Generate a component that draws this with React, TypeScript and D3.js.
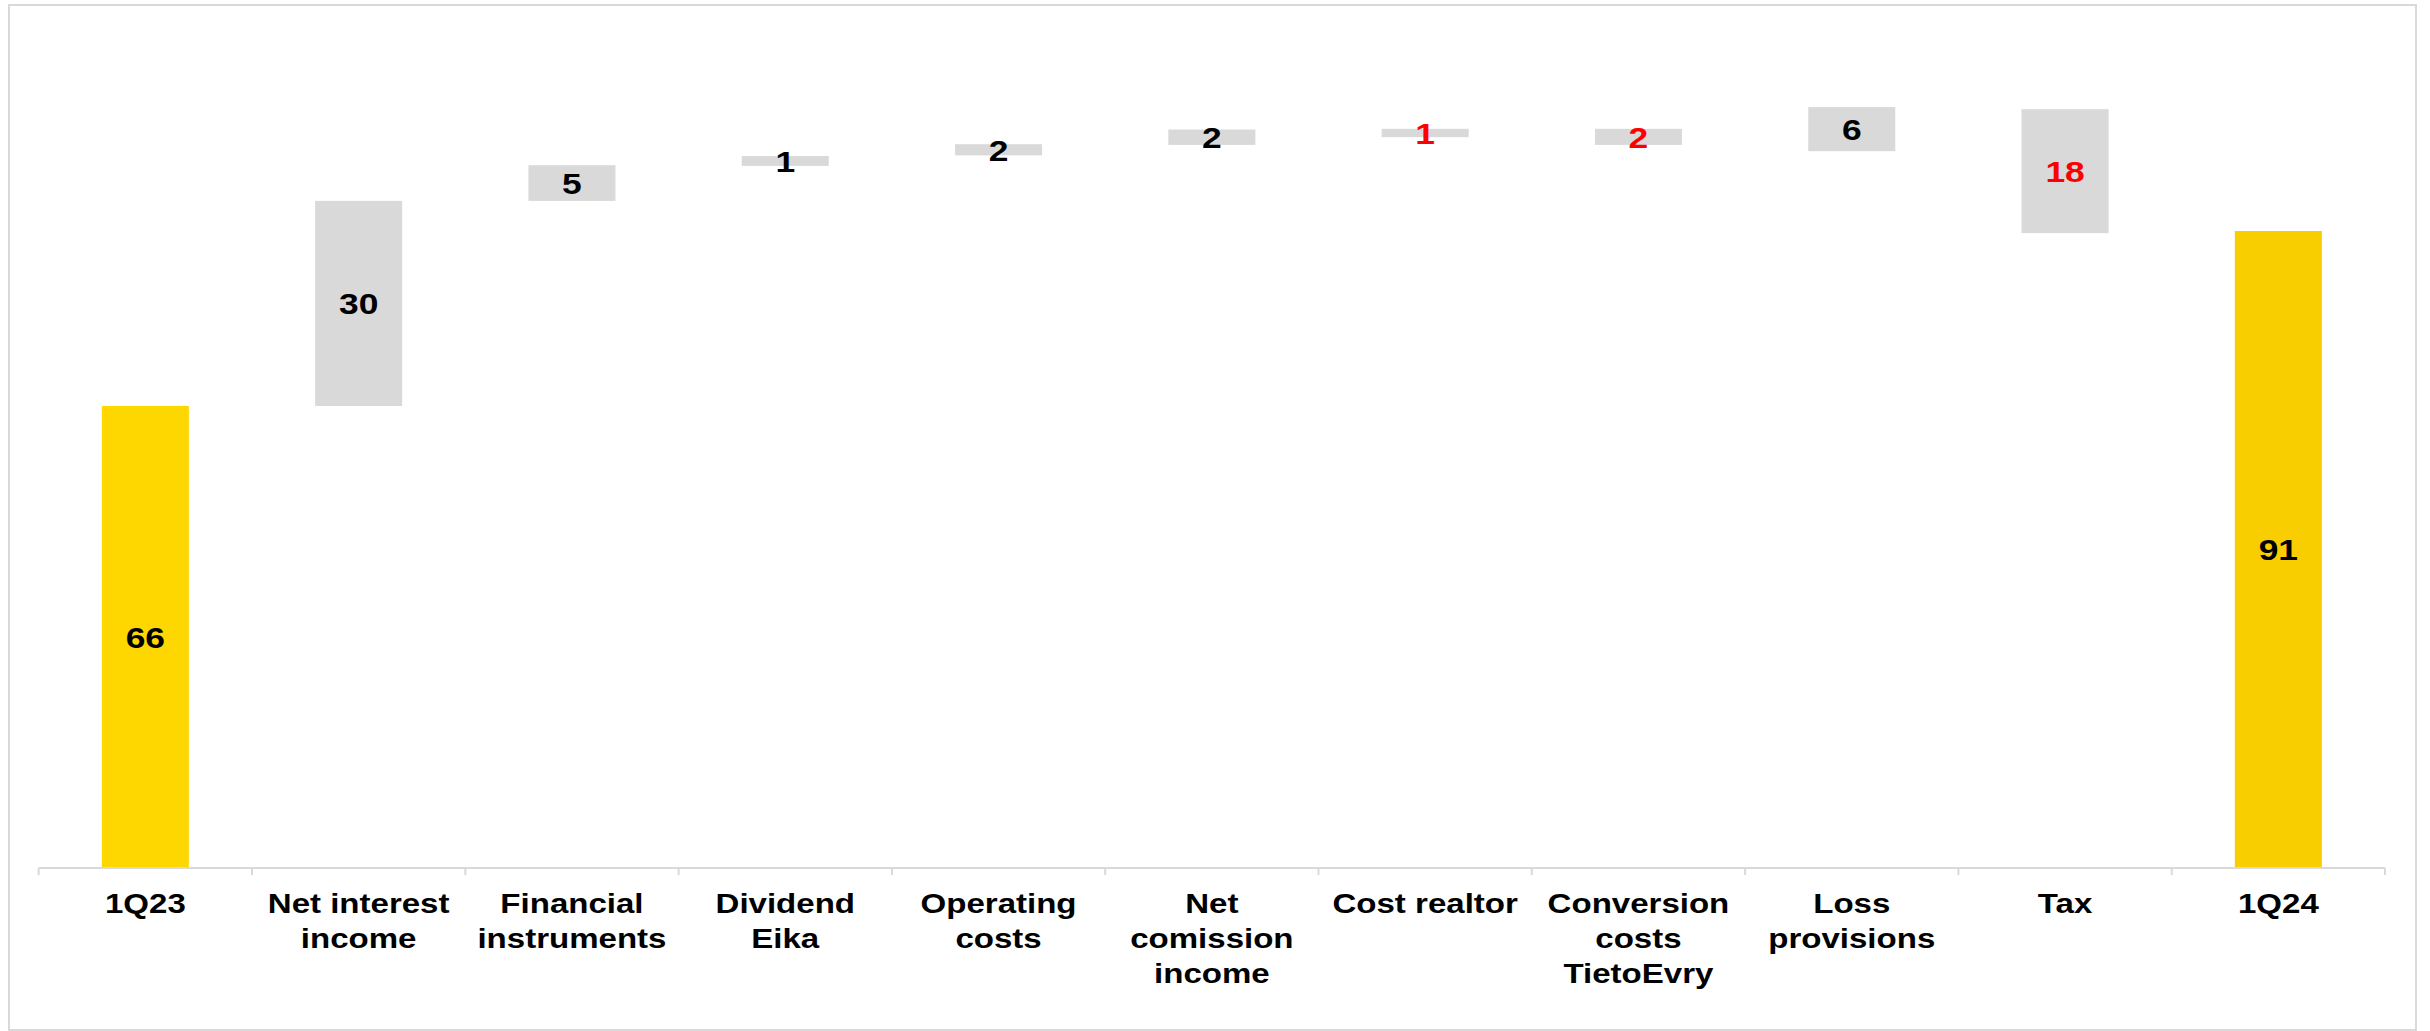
import React from "react";
import * as d3 from "d3";

const categories = [
  "1Q23",
  "Net interest income",
  "Financial instruments",
  "Dividend Eika",
  "Operating costs",
  "Net comission income",
  "Cost realtor",
  "Conversion costs TietoEvry",
  "Loss provisions",
  "Tax",
  "1Q24",
];

const categoryLines = [
  ["1Q23"],
  ["Net interest", "income"],
  ["Financial", "instruments"],
  ["Dividend", "Eika"],
  ["Operating", "costs"],
  ["Net", "comission", "income"],
  ["Cost realtor"],
  ["Conversion", "costs", "TietoEvry"],
  ["Loss", "provisions"],
  ["Tax"],
  ["1Q24"],
];

// invisible base of each floating bar
const baseValues = [0, 66.0, 95.3, 100.3, 101.8, 103.3, 104.4, 103.3, 102.4, 90.7, 0];
// visible bar heights
const barValues = [66.0, 29.3, 5.1, 1.4, 1.6, 2.2, 1.2, 2.3, 6.3, 17.7, 91.0];
// displayed labels (negative = red)
const labelValues = [66, 30, 5, 1, 2, 2, -1, -2, 6, -18, 91];
// bar kind
const barKinds = ["total", "delta", "delta", "delta", "delta", "delta", "delta", "delta", "delta", "delta", "total2"];

const W = 2430;
const H = 1031;

export default function App() {
  const x = d3
    .scaleBand<string>()
    .domain(categories)
    .range([38.7, 2385])
    .paddingInner(0.592)
    .paddingOuter(0.296);
  const y = d3.scaleLinear().domain([0, 120]).range([868, 28]);
  const step = x.step();
  const r0 = x.range()[0];
  const stretch = 1.18;

  const colorFor = (k: string) =>
    k === "total" ? "#FFD700" : k === "total2" ? "#F9CE00" : "#D9D9D9";

  return (
    <div style={{ position: "absolute", left: 0, top: 0 }}>
      <svg width={W} height={H} style={{ display: "block" }}>
        <rect x={9} y={5} width={2407} height={1025} fill="#ffffff" stroke="#D9D9D9" strokeWidth={2} />
        {categories.map((c, i) => {
          const b = baseValues[i];
          const v = barValues[i];
          const top = y(b + v);
          const bot = y(b);
          return (
            <rect
              key={"bar" + i}
              x={x(c)!}
              y={top}
              width={x.bandwidth()}
              height={bot - top}
              fill={colorFor(barKinds[i])}
            />
          );
        })}
        {/* axis */}
        <line x1={r0} x2={r0 + step * categories.length} y1={y(0)} y2={y(0)} stroke="#D9D9D9" strokeWidth={2} />
        {d3.range(categories.length + 1).map((k) => (
          <line
            key={"t" + k}
            x1={r0 + step * k}
            x2={r0 + step * k}
            y1={y(0)}
            y2={y(0) + 7}
            stroke="#D9D9D9"
            strokeWidth={2}
          />
        ))}
        {/* data labels */}
        {categories.map((c, i) => {
          const b = baseValues[i];
          const v = barValues[i];
          const cy = (y(b) + y(b + v)) / 2;
          const cx = x(c)! + x.bandwidth() / 2;
          const val = labelValues[i];
          return (
            <text
              key={"lbl" + i}
              transform={`translate(${cx},${cy}) scale(${stretch},1)`}
              textAnchor="middle"
              dy="0.36em"
              fontFamily="'Liberation Sans', Arial, sans-serif"
              fontWeight="bold"
              fontSize={30}
              fill={val < 0 ? "#FF0000" : "#000000"}
            >
              {Math.abs(val)}
            </text>
          );
        })}
        {/* category labels */}
        {categories.map((c, i) => {
          const cx = x(c)! + x.bandwidth() / 2;
          return (
            <text
              key={"cat" + i}
              transform={`translate(${cx},913.3) scale(${stretch},1)`}
              textAnchor="middle"
              fontFamily="'Liberation Sans', Arial, sans-serif"
              fontWeight="bold"
              fontSize={28}
              fill="#000000"
            >
              {categoryLines[i].map((ln, j) => (
                <tspan key={j} x={0} dy={j === 0 ? 0 : 35}>
                  {ln}
                </tspan>
              ))}
            </text>
          );
        })}
      </svg>
    </div>
  );
}
